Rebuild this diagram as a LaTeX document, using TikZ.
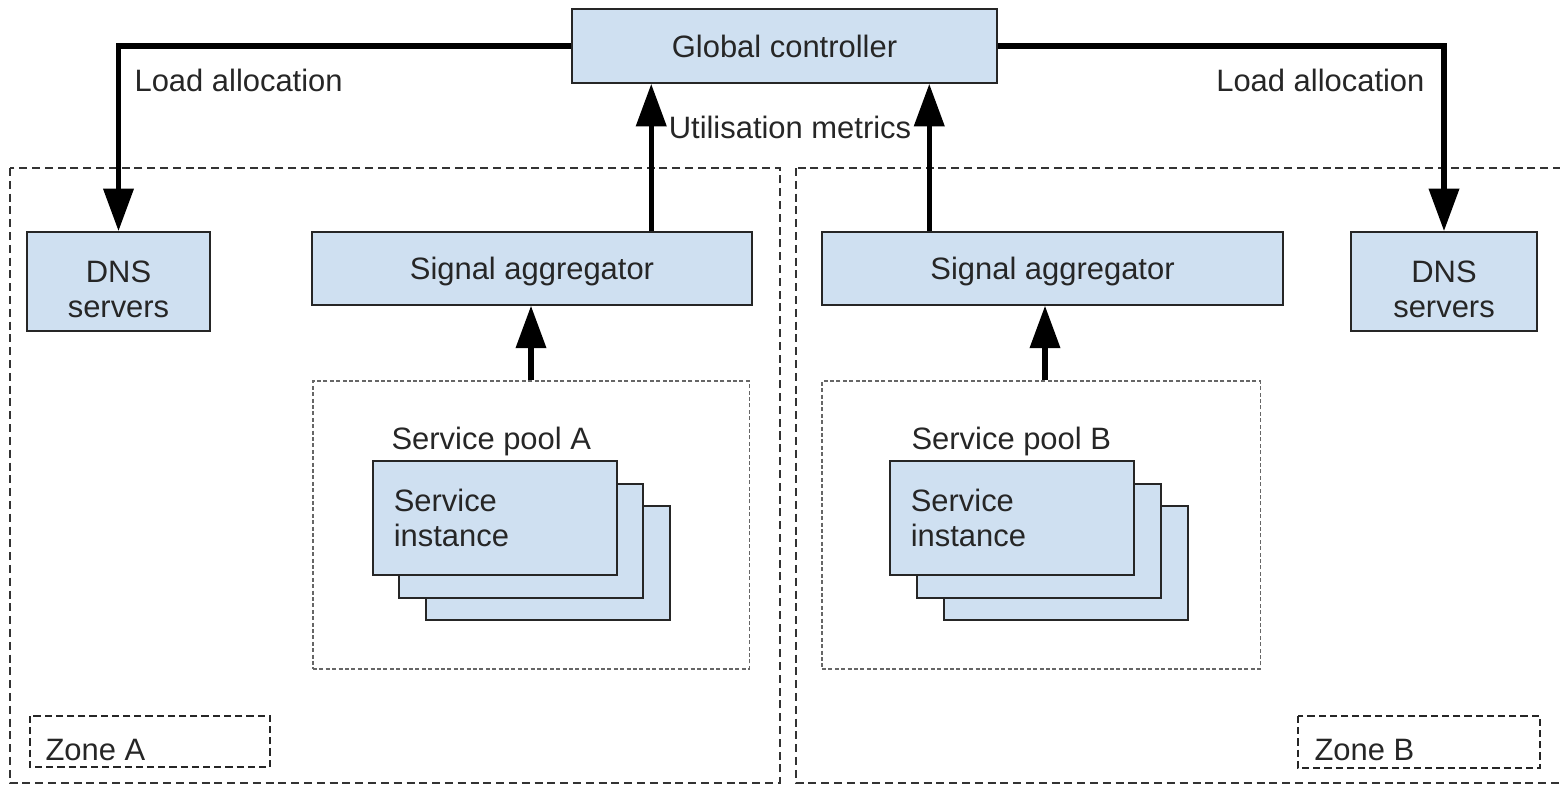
\documentclass[tikz,border=0pt]{standalone}
\usepackage{fontspec}
\setmainfont{Liberation Sans}
\usetikzlibrary{arrows.meta}

\definecolor{boxblue}{RGB}{207,224,241}
\definecolor{inkgray}{RGB}{38,38,38}

\tikzset{
  every node/.style={font=\fontsize{11}{12.6}\selectfont, text=inkgray},
  box/.style={draw=inkgray, line width=0.6pt, fill=boxblue, align=center, inner sep=0pt},
  instance/.style={box, minimum width=3.05cm, minimum height=1.425cm},
  tag/.style={inner sep=0pt},
  flow/.style={line width=1.8pt, -{Triangle[length=0.53cm,width=0.37cm]}},
  zone/.style={draw=black!80, line width=0.45pt, dash pattern=on 0.1cm off 0.06cm},
  zonetag/.style={draw=black!85, line width=0.6pt, dash pattern=on 0.09cm off 0.05cm},
  pool/.style={draw=black!60, line width=0.4pt, dash pattern=on 0.05cm off 0.03cm, inner sep=0pt}
}

\begin{document}
\begin{tikzpicture}[x=0.0125cm, y=-0.0125cm]
  \clip (0,0) rectangle (1560,784);

  % zones
  \draw[zone] (10,168) rectangle (780,783);
  \draw[zone] (796,168) rectangle (1575,783);
  \draw[zonetag] (30,716) rectangle (270,767);
  \draw[zonetag] (1298,716) rectangle (1540,768);
  \node[tag, anchor=base west] (zoneA) at (45,760) {Zone A};
  \node[tag, anchor=base west] (zoneB) at (1314,760) {Zone B};

  % top level
  \node[box, minimum width=5.31cm, minimum height=0.925cm] (ctrl) at (784.5,46) {Global controller};
  \node[box, minimum width=2.29cm, minimum height=1.24cm] (dnsA) at (118.5,281.5) {\rule{0pt}{0.46cm}DNS\\servers};
  \node[box, minimum width=2.32cm, minimum height=1.24cm] (dnsB) at (1444,281.5) {\rule{0pt}{0.46cm}DNS\\servers};
  \node[box, text depth=0pt, minimum width=5.5cm, minimum height=0.91cm] (aggA) at (532,268.5) {Signal aggregator};
  \node[box, text depth=0pt, minimum width=5.76cm, minimum height=0.91cm] (aggB) at (1052.5,268.5) {Signal aggregator};

  % service pools
  \node[pool, minimum width=5.45cm, minimum height=3.6cm] (poolA) at (531,525) {};
  \node[pool, minimum width=5.475cm, minimum height=3.6cm] (poolB) at (1041,525) {};
  \node[tag, anchor=base west] (poolAlbl) at (391,449) {Service pool A};
  \node[tag, anchor=base west] (poolBlbl) at (911,449) {Service pool B};

  \node[instance] (instA3) at (548,563) {};
  \node[instance] (instA2) at (521,541) {};
  \node[instance, text width=2.53cm, inner xsep=0.26cm, align=left] (instA1) at (495,518) {Service\\instance};
  \node[instance] (instB3) at (1066,563) {};
  \node[instance] (instB2) at (1039,541) {};
  \node[instance, text width=2.53cm, inner xsep=0.26cm, align=left] (instB1) at (1012,518) {Service\\instance};

  % load allocation
  \draw[flow] (ctrl.west) -| (dnsA.north);
  \draw[flow] (ctrl.east) -| (dnsB.north);
  \node[tag, anchor=base west] (loadA) at (134,91) {Load allocation};
  \node[tag, anchor=base east] (loadB) at (1425,91) {Load allocation};

  % utilisation metrics
  \coordinate (mA) at ([xshift=1.49cm]aggA.north);
  \coordinate (mB) at ([xshift=-1.54cm]aggB.north);
  \draw[flow] (mA) -- (mA |- ctrl.south);
  \draw[flow] (mB) -- (mB |- ctrl.south);
  \node[tag, anchor=base] (metrics) at (790,138) {Utilisation metrics};

  \draw[flow] (poolA.north) -- (poolA.north |- aggA.south);
  \draw[flow] ([xshift=0.05cm]poolB.north) -- ([xshift=0.05cm]poolB.north |- aggB.south);
\end{tikzpicture}
\end{document}
